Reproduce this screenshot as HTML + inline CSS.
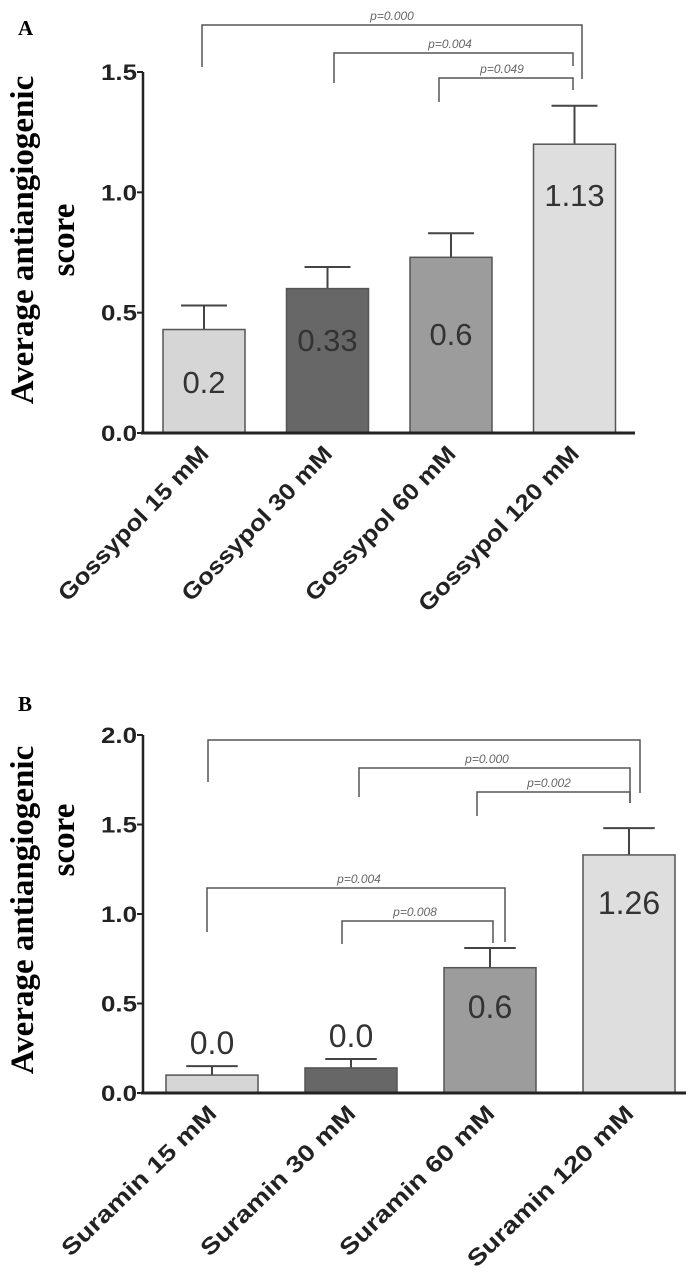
<!DOCTYPE html>
<html><head><meta charset="utf-8"><style>
html,body{margin:0;padding:0;background:#fff;}
svg{display:block;}
text{font-family:"Liberation Sans",Arial,sans-serif;}
.serif{font-family:"Liberation Serif","Times New Roman",serif;font-weight:bold;}
</style></head><body>
<svg id="fig" width="699" height="1272" viewBox="0 0 699 1272" xmlns="http://www.w3.org/2000/svg"></svg>
<script>
// Panel A data
const catsA = ["Gossypol 15 mM","Gossypol 30 mM","Gossypol 60 mM","Gossypol 120 mM"];
const valsA = [0.43,0.60,0.73,1.20];
const errA = [0.10,0.09,0.10,0.16];
const labelsA = ["0.2","0.33","0.6","1.13"];
const ticksA = [0,0.5,1.0,1.5];
const tickLabelsA = ["0.0","0.5","1.0","1.5"];
const pA = ["p=0.000","p=0.004","p=0.049"];
// Panel B data
const catsB = ["Suramin 15 mM","Suramin 30 mM","Suramin 60 mM","Suramin 120 mM"];
const valsB = [0.10,0.14,0.70,1.33];
const errB = [0.05,0.05,0.11,0.15];
const labelsB = ["0.0","0.0","0.6","1.26"];
const ticksB = [0,0.5,1.0,1.5,2.0];
const tickLabelsB = ["0.0","0.5","1.0","1.5","2.0"];
const pB = ["","p=0.000","p=0.002","p=0.004","p=0.008"];

const NS="http://www.w3.org/2000/svg";
const svg=document.getElementById('fig');
function mk(tag,attrs,parent){const e=document.createElementNS(NS,tag);for(const k in attrs)e.setAttribute(k,attrs[k]);(parent||svg).appendChild(e);return e;}

function panel(cfg){
  const g=mk('g',{});
  
  
  const y=v=>cfg.y0-(v/cfg.ymax)*(cfg.y0-cfg.ytop);
  const xc=i=>cfg.x1+cfg.step*i;
  const L=mk('text',{x:18,y:cfg.letterY,'font-size':21,class:'serif'},g);L.textContent=cfg.letter;
  
  
  const t1=mk('text',{x:0,y:0,'font-size':33,class:'serif','text-anchor':'middle',transform:`translate(33,${cfg.titleY1}) rotate(-90)`},g);t1.textContent="Average antiangiogenic";
  
  
  const t2=mk('text',{x:0,y:0,'font-size':33,class:'serif','text-anchor':'middle',transform:`translate(74,${cfg.titleY2}) rotate(-90)`},g);t2.textContent="score";
  
  
  cfg.vals.forEach((v,i)=>{
    const cx=xc(i), w=cfg.bw;
    const eTop=y(v+cfg.err[i]);
    const el=mk('line',{x1:cx,x2:cx,y1:y(v),y2:eTop,stroke:'#444','stroke-width':2},g);
    
    
    const ec=mk('line',{x1:cx-w*0.28,x2:cx+w*0.28,y1:eTop,y2:eTop,stroke:'#444','stroke-width':2},g);
    
    
    const r=mk('rect',{x:cx-w/2,y:y(v),width:w,height:cfg.y0-y(v),fill:cfg.colors[i],stroke:'#555','stroke-width':1.5},g);
    
    
    const lt=mk('text',{x:cx,y:cfg.labelY(i,v,y),'font-size':cfg.lfs,'text-anchor':'middle',fill:'#333'},g);lt.textContent=cfg.labels[i];
    
    
    const n=cfg.cats[i].length;
    const xl=mk('text',{x:0,y:0,'font-size':cfg.xfs,'font-weight':'bold','text-anchor':'end',fill:'#222',textLength:cfg.xlen*n/cfg.cats[0].length,lengthAdjust:'spacingAndGlyphs',transform:`translate(${cx+6},${cfg.y0+22}) rotate(${cfg.xang})`},g);xl.textContent=cfg.cats[i];
    
    
  });
  const ya=mk('line',{x1:143,x2:143,y1:cfg.ytop,y2:cfg.y0+1,stroke:'#222','stroke-width':2.5},g);
  
  
  const xa=mk('line',{x1:141,x2:cfg.xend,y1:cfg.y0,y2:cfg.y0,stroke:'#222','stroke-width':3},g);
  
  
  cfg.ticks.forEach((t,i)=>{
    const tk=mk('line',{x1:137,x2:143,y1:y(t),y2:y(t),stroke:'#222','stroke-width':2},g);
    
    
    const tl=mk('text',{x:137,y:y(t)+8,'font-size':22,'font-weight':'bold','text-anchor':'end',fill:'#222',textLength:36,lengthAdjust:'spacingAndGlyphs'},g);tl.textContent=cfg.tickLabels[i];
    
    
  });
  cfg.brackets.forEach((b,i)=>{
    const p=mk('path',{d:`M${b[0]},${b[3]} L${b[0]},${b[2]} L${b[1]},${b[2]} L${b[1]},${b[4]}`,fill:'none',stroke:'#555','stroke-width':1.5},g);
    
    
    if(cfg.p[i]){
      const pt=mk('text',{x:b[5],y:b[2]-5,'font-size':12,'font-style':'italic','text-anchor':'middle',fill:'#666'},g);pt.textContent=cfg.p[i];
      
      
    }
  });
}

panel({name:'panel-a',letter:'A',letterY:35,titleY1:240,titleY2:240,y0:433,ytop:72,ymax:1.5,
  x1:204,step:123.5,bw:82,xend:635,cats:catsA,vals:valsA,err:errA,labels:labelsA,
  ticks:ticksA,tickLabels:tickLabelsA,p:pA,lfs:31,xfs:23,xlen:205,xang:-46,
  colors:['#d6d6d6','#676767','#9c9c9c','#dedede'],
  labelY:(i,v,y)=>[393,351,345,206][i],
  brackets:[[202,582,25,67,79,392],[334,573,53,83,66,450],[439,573,78,102,90,502]]});

panel({name:'panel-b',letter:'B',letterY:711,titleY1:910,titleY2:840,y0:1093,ytop:735,ymax:2.0,
  x1:212,step:139,bw:92,xend:686,cats:catsB,vals:valsB,err:errB,labels:labelsB,
  ticks:ticksB,tickLabels:tickLabelsB,p:pB,lfs:32,xfs:23,xlen:205,xang:-44,
  colors:['#d6d6d6','#676767','#9c9c9c','#dedede'],
  labelY:(i,v,y)=>[1054,1047,1018,914][i],
  brackets:[[208,640,740,782,793,424],[359,630,768,797,803,487],[477,630,792,816,803,549],[207,505,888,932,942,359],[342,493,921,944,943,415]]});
</script>
</body></html>
